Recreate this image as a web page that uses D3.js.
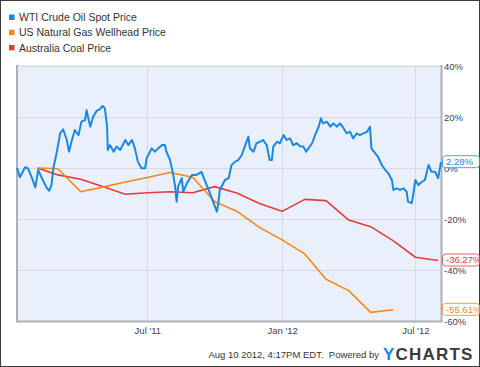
<!DOCTYPE html>
<html><head><meta charset="utf-8">
<script src="https://cdn.jsdelivr.net/npm/d3@7/dist/d3.min.js"></script>
<style>
body{margin:0;background:#fff}
svg{display:block;font-family:"Liberation Sans",Arial,sans-serif}
</style>
</head><body>
<svg id="chart" width="480" height="367"></svg>
<script>
const seriesNames = ["WTI Crude Oil Spot Price", "US Natural Gas Wellhead Price", "Australia Coal Price"];
const seriesColors = ["#1a87e5", "#f7861c", "#e23b3f"];

const oilDates = ["2011-01-04","2011-01-08","2011-01-15","2011-01-19","2011-01-24","2011-01-29","2011-02-02","2011-02-07","2011-02-14","2011-02-17","2011-02-20","2011-02-23","2011-02-27","2011-03-04","2011-03-08","2011-03-13","2011-03-16","2011-03-20","2011-03-24","2011-03-29","2011-04-02","2011-04-07","2011-04-09","2011-04-14","2011-04-18","2011-04-23","2011-04-27","2011-05-01","2011-05-04","2011-05-07","2011-05-08","2011-05-11","2011-05-16","2011-05-20","2011-05-25","2011-06-01","2011-06-05","2011-06-10","2011-06-14","2011-06-18","2011-06-23","2011-06-28","2011-06-30","2011-07-07","2011-07-11","2011-07-16","2011-07-21","2011-07-25","2011-07-27","2011-08-01","2011-08-05","2011-08-08","2011-08-10","2011-08-12","2011-08-17","2011-08-19","2011-08-24","2011-08-31","2011-09-06","2011-09-13","2011-09-18","2011-09-22","2011-09-27","2011-10-04","2011-10-06","2011-10-08","2011-10-15","2011-10-20","2011-10-24","2011-10-29","2011-11-02","2011-11-07","2011-11-11","2011-11-16","2011-11-18","2011-11-23","2011-11-27","2011-12-02","2011-12-06","2011-12-11","2011-12-15","2011-12-18","2011-12-20","2011-12-25","2011-12-29","2012-01-03","2012-01-07","2012-01-12","2012-01-16","2012-01-21","2012-01-26","2012-01-30","2012-02-03","2012-02-06","2012-02-11","2012-02-15","2012-02-20","2012-02-23","2012-02-26","2012-03-02","2012-03-07","2012-03-11","2012-03-16","2012-03-20","2012-03-25","2012-03-29","2012-04-03","2012-04-07","2012-04-12","2012-04-16","2012-04-21","2012-04-26","2012-04-30","2012-05-02","2012-05-07","2012-05-11","2012-05-16","2012-05-21","2012-05-25","2012-05-30","2012-06-01","2012-06-06","2012-06-10","2012-06-15","2012-06-19","2012-06-21","2012-06-26","2012-06-28","2012-07-01","2012-07-05","2012-07-10","2012-07-14","2012-07-19","2012-07-23","2012-07-28","2012-08-01","2012-08-05"];
const oilValues = [0,-3.6,0.3,-0.1,-3.6,-7.6,-0.8,-4.0,-8.0,-8.9,-6.7,0.5,5.8,13.6,15.2,11.0,6.4,11.0,14.9,12.9,18.2,18.8,22.7,16.2,20.1,22.5,23.0,24.3,23.4,16.2,7.1,9.0,6.4,8.4,7.1,11.0,9.0,11.0,7.7,2.5,-0.1,-0.1,3.8,7.7,6.4,7.7,9.0,9.0,6.4,3.1,-2.1,-7.3,-13.2,-7.3,-4.0,-9.3,-6.0,-2.7,-2.7,-1.5,-5.4,-8.0,-11.9,-17.1,-13.8,-8.6,-4.7,-4.0,1.2,2.5,3.1,5.1,8.4,12.3,7.7,6.4,9.7,10.3,11.0,9.0,3.1,3.1,8.4,10.3,9.7,12.9,11.0,11.6,9.0,9.7,8.4,8.4,6.4,7.7,9.7,12.9,16.2,19.5,17.5,18.2,16.2,17.5,16.2,17.5,15.6,13.6,14.2,11.6,13.6,12.9,13.6,14.2,16.2,7.7,5.8,4.4,1.2,-0.8,-2.1,-4.7,-8.6,-8.0,-8.6,-8.0,-9.3,-13.2,-13.8,-10.6,-4.7,-6.7,-5.4,-4.7,1.2,-1.5,-1.5,-4.0,2.28];

const gasDates = ["2011-02-01","2011-03-01","2011-04-01","2011-05-01","2011-06-01","2011-07-01","2011-08-01","2011-09-01","2011-10-01","2011-11-01","2011-12-01","2012-01-01","2012-02-01","2012-03-01","2012-04-01","2012-05-01","2012-06-01"];
const gasValues = [0,-0.3,-9.3,-7.5,-5.5,-3.7,-1.8,-3.6,-13.2,-17.1,-23.3,-28.2,-33.7,-43.6,-48.1,-56.6,-55.61];

const coalDates = ["2011-02-01","2011-03-01","2011-04-01","2011-05-01","2011-06-01","2011-07-01","2011-08-01","2011-09-01","2011-10-01","2011-11-01","2011-12-01","2012-01-01","2012-02-01","2012-03-01","2012-04-01","2012-05-01","2012-06-01","2012-07-01","2012-08-01"];
const coalValues = [0,-2.7,-4.4,-7.3,-10.3,-9.7,-9.3,-9.7,-7.3,-9.9,-13.9,-17.0,-12.3,-12.8,-20.4,-23.0,-28.6,-35.0,-36.27];

const yTicks = [40, 20, 0, -20, -40, -60];
const xTickDates = ["2011-07-01", "2012-01-01", "2012-07-01"];
const xTickLabels = ["Jul '11", "Jan '12", "Jul '12"];
const lastLabels = ["2.28%", "-55.61%", "-36.27%"];
const footerText = "Aug 10 2012, 4:17PM EDT.  Powered by";

const parse = d3.timeParse("%Y-%m-%d");
const series = [
  {name: seriesNames[0], color: seriesColors[0], width: 2, pts: oilDates.map((d,i)=>({d:parse(d), v:oilValues[i]}))},
  {name: seriesNames[1], color: seriesColors[1], width: 1.6, pts: gasDates.map((d,i)=>({d:parse(d), v:gasValues[i]}))},
  {name: seriesNames[2], color: seriesColors[2], width: 1.6, pts: coalDates.map((d,i)=>({d:parse(d), v:coalValues[i]}))}
];

const svg = d3.select("#chart");
const W = 480, H = 367;
const plot = {l: 17, r: 441, t: 66, b: 321};

const x = d3.scaleTime().domain([parse("2011-01-04"), parse("2012-08-05")]).range([plot.l, plot.r]);
const y = d3.scaleLinear().domain([-60, 40]).range([plot.b, plot.t]);

// outer frame
svg.append("rect").attr("x",0.5).attr("y",0.5).attr("width",W-1).attr("height",H-1)
  .attr("fill","#fff").attr("stroke","#3a3a3a").attr("stroke-width",1);

// plot background
svg.append("rect").attr("x",plot.l).attr("y",plot.t-1).attr("width",plot.r-plot.l).attr("height",plot.b-plot.t+1)
  .attr("fill","#eaf0fb");

// grid
const grid = svg.append("g");
grid.selectAll("line.h").data(yTicks).join("line")
  .attr("x1",plot.l).attr("x2",plot.r).attr("y1",d=>Math.round(y(d))+0.5).attr("y2",d=>Math.round(y(d))+0.5)
  .attr("stroke","#d6d9de").attr("stroke-width",1);
grid.selectAll("line.v").data(xTickDates).join("line")
  .attr("x1",d=>Math.round(x(parse(d)))+0.5).attr("x2",d=>Math.round(x(parse(d)))+0.5)
  .attr("y1",plot.t).attr("y2",plot.b)
  .attr("stroke","#d6d9de").attr("stroke-width",1);

// borders: left, right, bottom
svg.append("line").attr("x1",plot.l).attr("x2",plot.l).attr("y1",plot.t-1).attr("y2",plot.b+1).attr("stroke","#aeb0b6").attr("stroke-width",2);
svg.append("line").attr("x1",plot.r+0.5).attr("x2",plot.r+0.5).attr("y1",plot.t-1).attr("y2",plot.b+1).attr("stroke","#aeb0b6").attr("stroke-width",2);
svg.append("line").attr("x1",plot.l-1).attr("x2",plot.r+1.5).attr("y1",plot.b+0.5).attr("y2",plot.b+0.5).attr("stroke","#aeb0b6").attr("stroke-width",2);

// y axis labels (right)
const yAxis = d3.axisRight(y).tickValues(yTicks).tickFormat(d=>d+"%").tickSize(0).tickPadding(3);
const ya = svg.append("g").attr("transform",`translate(${plot.r},0)`).call(yAxis);
ya.select(".domain").remove();
ya.selectAll("text").attr("fill","#444").style("font-size","9.5px").style("font-family",'"Liberation Sans",Arial,sans-serif');

// x axis labels
const xAxis = d3.axisBottom(x).tickValues(xTickDates.map(parse)).tickFormat((d,i)=>xTickLabels[i]).tickSize(0).tickPadding(6);
const xa = svg.append("g").attr("transform",`translate(0,${plot.b})`).call(xAxis);
xa.select(".domain").remove();
xa.selectAll("text").attr("fill","#444").style("font-size","9.5px").style("font-family",'"Liberation Sans",Arial,sans-serif');

// lines
const line = d3.line().x(p=>x(p.d)).y(p=>y(p.v));
const lineOrder = [2, 1, 0];
lineOrder.forEach(i=>{
  const s = series[i];
  svg.append("path").attr("d", line(s.pts)).attr("fill","none")
    .attr("stroke", s.color).attr("stroke-width", s.width).attr("stroke-linejoin","round");
});

// last value labels
series.forEach((s,i)=>{
  const last = s.pts[s.pts.length-1];
  const cy = y(last.v);
  const g = svg.append("g").attr("transform",`translate(${plot.r+1.5},${cy-0.5})`);
  g.append("rect").attr("x",0).attr("y",-6).attr("width",37).attr("height",12).attr("rx",3)
    .attr("fill","#fff").attr("stroke",s.color).attr("stroke-width",1).attr("stroke-opacity",0.8);
  g.append("text").attr("x",3.5).attr("y",3.5).attr("fill",s.color).style("font-size","9.5px").text(lastLabels[i]);
});

// legend
const leg = svg.append("g").attr("transform","translate(9,14)");
series.forEach((s,i)=>{
  const row = leg.append("g").attr("transform",`translate(0,${i*15.2})`);
  row.append("rect").attr("x",0).attr("y",0.5).attr("width",5.5).attr("height",5.5).attr("fill",s.color);
  row.append("text").attr("x",10).attr("y",7.2).attr("fill","#333").style("font-size","10.5px").text(s.name);
});

// footer
svg.append("text").attr("x",379).attr("y",358).attr("text-anchor","end").attr("fill","#333")
  .style("font-size","9.5px").attr("xml:space","preserve").text(footerText);
const logo = svg.append("text").attr("x",383).attr("y",360).style("font-size","17px").style("font-weight","bold").style("letter-spacing","1.2px");
logo.append("tspan").attr("fill","#1a87e5").text("Y");
logo.append("tspan").attr("fill","#3b3b3b").text("CHARTS");
</script>
</body></html>
